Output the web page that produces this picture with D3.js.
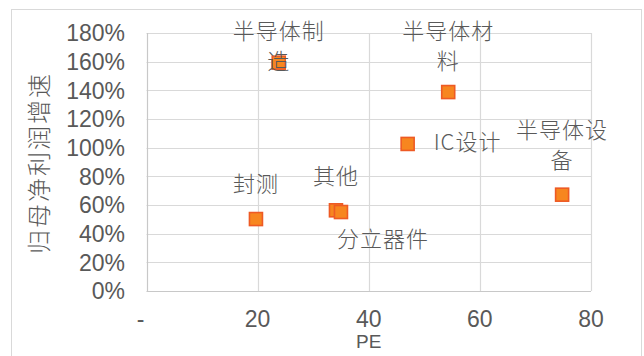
<!DOCTYPE html>
<html>
<head>
<meta charset="utf-8">
<script src="https://cdn.jsdelivr.net/npm/d3@7"></script>
<style>
  html, body { margin: 0; padding: 0; background: #fff; }
  svg { display: block; }
  .tick-label { font-family: "Liberation Sans", Arial, sans-serif; fill: #595959; }
  .cjk { font-family: "Noto Sans CJK SC", sans-serif; font-weight: 300; fill: #595959; }
</style>
</head>
<body>
<svg id="chart" width="644" height="356"></svg>
<script>
// data
const sectors = ["封测", "半导体制造", "其他", "分立器件", "IC设计", "半导体材料", "半导体设备"]
const pe = [19.7, 23.8, 34.1, 35.0, 47.0, 54.3, 74.8]
const growth = [0.502, 1.593, 0.563, 0.551, 1.026, 1.388, 0.672]
// label text as Excel wrapped it
const labelLines = [["封测"], ["半导体制", "造"], ["其他"], ["分立器件"], ["IC设计"], ["半导体材", "料"], ["半导体设", "备"]]
const xTicks = [0, 20, 40, 60, 80]
const yTicks = [0, 0.2, 0.4, 0.6, 0.8, 1.0, 1.2, 1.4, 1.6, 1.8]

// label placement (offset of first line centre from the marker)
const labelOffset = [[0, -35], [0, -32], [0, -34], [42, 27], [26, -2], [0, -61], [0, -65]]
const lineHeight = 30

const svg = d3.select("#chart")
const plot = { left: 146.5, right: 591, top: 33, bottom: 291 }

// outer chart border
svg.append("rect")
  .attr("x", 11.5).attr("y", 9.5)
  .attr("width", 630).attr("height", 360)
  .attr("fill", "none")
  .attr("stroke", "#d9d9d9")
  .attr("stroke-width", 1)

const x = d3.scaleLinear().domain([0, 80]).range([plot.left, plot.right])
const y = d3.scaleLinear().domain([0, 1.8]).range([plot.bottom, plot.top])

// grid
svg.append("g")
  .selectAll("line")
  .data(yTicks)
  .enter().append("line")
    .attr("x1", plot.left).attr("x2", plot.right)
    .attr("y1", d => Math.round(y(d)) + 0.5).attr("y2", d => Math.round(y(d)) + 0.5)
    .attr("stroke", d => d === 0 ? "#c8c8c8" : "#d9d9d9")
    .attr("stroke-width", 1.2)

svg.append("g")
  .selectAll("line")
  .data(xTicks)
  .enter().append("line")
    .attr("y1", plot.top).attr("y2", plot.bottom)
    .attr("x1", d => Math.round(x(d)) + 0.5).attr("x2", d => Math.round(x(d)) + 0.5)
    .attr("stroke", d => d === 0 ? "#c8c8c8" : "#d9d9d9")
    .attr("stroke-width", 1.2)

// y tick labels
svg.append("g")
  .selectAll("text")
  .data(yTicks)
  .enter().append("text")
    .attr("class", "tick-label")
    .attr("x", 125)
    .attr("y", d => y(d))
    .attr("dy", "0.36em")
    .attr("text-anchor", "end")
    .attr("font-size", 23)
    .text(d => d3.format(".0%")(d))

// x tick labels ("-" for zero, accounting style)
svg.append("g")
  .selectAll("text")
  .data(xTicks)
  .enter().append("text")
    .attr("class", "tick-label")
    .attr("x", d => d === 0 ? x(d) - 6 : x(d))
    .attr("y", 327)
    .attr("text-anchor", "middle")
    .attr("font-size", 23)
    .text(d => d === 0 ? "-" : d)

// axis titles
svg.append("text")
  .attr("class", "tick-label")
  .attr("x", x(40))
  .attr("y", 348)
  .attr("text-anchor", "middle")
  .attr("font-size", 19)
  .text("PE")

svg.append("text")
  .attr("class", "cjk")
  .attr("transform", "translate(48,163) rotate(-90)")
  .attr("text-anchor", "middle")
  .attr("font-size", 24)
  .attr("letter-spacing", 2)
  .text("归母净利润增速")

// markers
const pts = sectors.map((s, i) => ({ name: s, pe: pe[i], g: growth[i], lines: labelLines[i], off: labelOffset[i] }))

svg.append("g")
  .selectAll("rect")
  .data(pts)
  .enter().append("rect")
    .attr("x", d => x(d.pe) - 6.5)
    .attr("y", d => y(d.g) - 6.5)
    .attr("width", 13)
    .attr("height", 13)
    .attr("fill", "#f7861f")
    .attr("stroke", "#ee5a24")
    .attr("stroke-width", 1.6)

// data labels
const lbl = svg.append("g")
  .selectAll("text")
  .data(pts)
  .enter().append("text")
    .attr("class", "cjk")
    .attr("font-size", 22)
    .attr("letter-spacing", 1)
    .attr("text-anchor", d => d.name === "IC设计" ? "start" : "middle")

lbl.selectAll("tspan")
  .data(d => d.lines.map((t, j) => ({ t, j, d })))
  .enter().append("tspan")
    .attr("x", o => x(o.d.pe) + o.d.off[0])
    .attr("y", o => y(o.d.g) + o.d.off[1] + o.j * lineHeight)
    .attr("dy", "0.36em")
    .text(o => o.t)
</script>
</body>
</html>
